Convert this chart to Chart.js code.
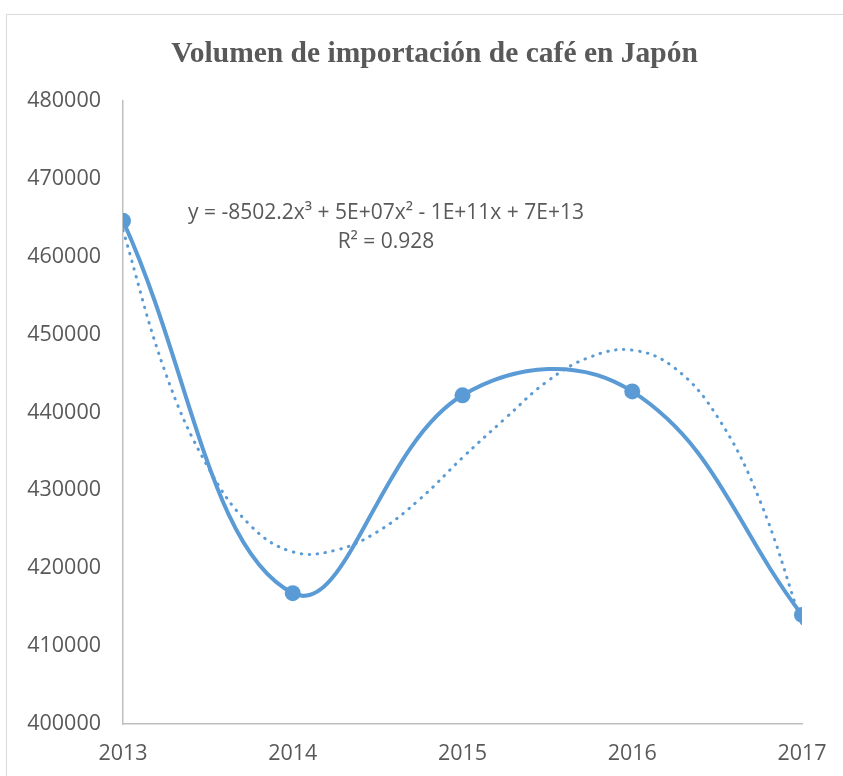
<!DOCTYPE html>
<html>
<head>
<meta charset="utf-8">
<script src="https://cdn.jsdelivr.net/npm/chart.js@4"></script>
<style>
  html, body { margin: 0; padding: 0; background: #fff; overflow: hidden; }
  #frame {
    position: absolute; left: 6px; top: 14px;
    width: 857px; height: 800px;
    border: 1.5px solid #d9d9d9;
  }
  #wrap { position: absolute; left: 0; top: 0; width: 869px; height: 776px; }
</style>
</head>
<body>
<div id="frame"></div>
<div id="wrap"><canvas id="chart" width="869" height="776"></canvas></div>
<script>
const years = [2013, 2014, 2015, 2016, 2017];
const imports = [464600, 416800, 442200, 442700, 414000];

// dotted polynomial trend, every quarter year
const trendYears = [2013, 2013.25, 2013.5, 2013.75, 2014, 2014.25, 2014.5, 2014.75, 2015,
                    2015.25, 2015.5, 2015.75, 2016, 2016.25, 2016.5, 2016.75, 2017];
const trendValues = [463400, 445100, 433000, 425500, 422100, 422300, 424700, 428900, 434200,
                     439200, 444000, 447100, 448000, 445700, 439500, 428800, 412800];

const yTicks = [400000, 410000, 420000, 430000, 440000, 450000, 460000, 470000, 480000];
const equation = ["y = -8502.2x³ + 5E+07x² - 1E+11x + 7E+13", "R² = 0.928"];

const blue = "#5b9bd5";
const grey = "#595959";
const axisGrey = "#bfbfbf";
const labelFont = { family: "'Open Sans', 'Liberation Sans', sans-serif", size: 21.5 };

const trendLabel = {
    id: "trendLabel",
    afterDraw(chart) {
        const { ctx, chartArea } = chart;
        ctx.save();
        ctx.fillStyle = grey;
        ctx.font = "21px 'Open Sans', 'Liberation Sans', sans-serif";
        ctx.textAlign = "center";
        ctx.textBaseline = "middle";
        const cx = chartArea.left + 263;
        ctx.fillText(equation[0], cx, 213);
        ctx.fillText(equation[1], cx, 242);
        ctx.restore();
    }
};

new Chart(document.getElementById("chart"), {
    type: "line",
    data: {
        datasets: [
            {
                label: "Volumen",
                data: years.map((y, i) => ({ x: y, y: imports[i] })),
                borderColor: blue,
                backgroundColor: blue,
                borderWidth: 4,
                tension: 0.4,
                pointRadius: 8,
                pointBorderWidth: 0,
                pointBackgroundColor: blue,
                order: 1
            },
            {
                label: "Tendencia",
                data: trendYears.map((y, i) => ({ x: y, y: trendValues[i] })),
                borderColor: blue,
                borderWidth: 3,
                borderDash: [0.5, 7.5],
                borderCapStyle: "round",
                tension: 0.4,
                pointRadius: 0,
                order: 2
            }
        ]
    },
    options: {
        responsive: false,
        animation: false,
        layout: { padding: 0 },
        plugins: {
            legend: { display: false },
            tooltip: { enabled: false },
            title: {
                display: true,
                text: "Volumen de importación de café en Japón",
                color: grey,
                font: { family: "'Liberation Serif', 'Times New Roman', serif", size: 29.5, weight: "bold" },
                padding: { top: 37, bottom: 28.5 }
            }
        },
        scales: {
            x: {
                type: "linear",
                min: years[0],
                max: years[years.length - 1],
                afterBuildTicks: scale => { scale.ticks = years.map(v => ({ value: v })); },
                afterFit: scale => { scale.height = 52; },
                ticks: { color: grey, font: labelFont, padding: 17, callback: v => String(v), maxRotation: 0 },
                grid: { display: false, drawTicks: false },
                border: { color: axisGrey, width: 1.5 }
            },
            y: {
                min: yTicks[0],
                max: yTicks[yTicks.length - 1],
                afterBuildTicks: scale => { scale.ticks = yTicks.map(v => ({ value: v })); },
                afterFit: scale => { scale.width = 123; },
                ticks: { color: grey, font: labelFont, padding: 22, callback: v => String(v) },
                grid: { display: false, drawTicks: false },
                border: { color: axisGrey, width: 1.5 }
            },
            // empty right-hand margin so the title centres on the whole frame
            margin: {
                position: "right",
                afterFit: scale => { scale.width = 67; },
                ticks: { display: false },
                grid: { display: false, drawTicks: false },
                border: { display: false }
            }
        }
    },
    plugins: [trendLabel]
});
</script>
</body>
</html>
